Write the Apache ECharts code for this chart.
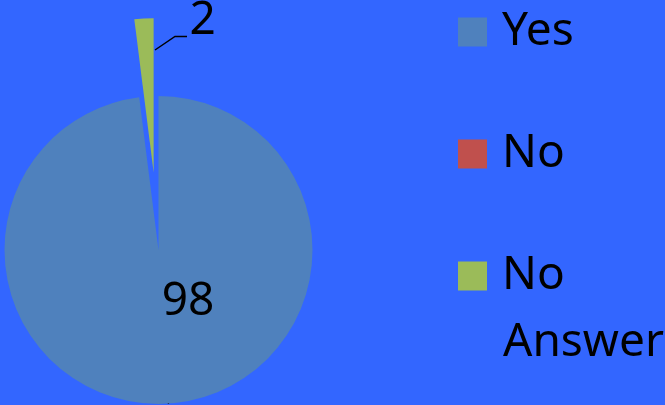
<!DOCTYPE html>
<html>
<head>
<meta charset="utf-8">
<style>
html,body{margin:0;padding:0;background:#3366FF;}
#chart{width:665px;height:405px;}
</style>
<script src="https://cdn.jsdelivr.net/npm/echarts@6/dist/echarts.min.js"></script>
</head>
<body>
<div id="chart"></div>
<script>
var categories = ['Yes', 'No', 'No Answer'];
var values = [98, 0, 2];
var colors = ['#4F81BD', '#C0504D', '#9BBB59'];
var explodedCategory = 'No Answer';

var FONT = '"Noto Sans", "Open Sans", sans-serif';
var CX = 158.5, CY = 250, R = 154, EXPLODE = 78;

// direction of the exploded slice (mid-angle), pie starts at 90deg clockwise
var total = values.reduce(function (a, b) { return a + b; }, 0);
var before = 0;
for (var k = 0; k < categories.indexOf(explodedCategory); k++) before += values[k];
var midFrac = (before + values[categories.indexOf(explodedCategory)] / 2) / total;
var midAng = (90 - 360 * midFrac) * Math.PI / 180;
var ECX = CX + EXPLODE * Math.cos(midAng);
var ECY = CY - EXPLODE * Math.sin(midAng);

var chart = echarts.init(document.getElementById('chart'), null, {renderer: 'canvas'});

function hidden(v) {
  return {name: '', value: v, itemStyle: {color: 'rgba(0,0,0,0)'}, label: {show: false}, labelLine: {show: false}};
}

var mainData = categories.map(function (c, i) {
  if (c === explodedCategory) return hidden(values[i]);
  var d = {name: c, value: values[i], itemStyle: {color: colors[i]}};
  if (values[i] === 0) { d.label = {show: false}; d.labelLine = {show: false}; }
  return d;
});
var explodedData = categories.map(function (c, i) {
  if (c !== explodedCategory) return hidden(values[i]);
  return {name: c, value: values[i], itemStyle: {color: colors[i]}};
});

var legendTops = [9, 131, 253];
var legends = categories.map(function (c, i) {
  return {
    orient: 'vertical',
    left: 458,
    top: legendTops[i],
    padding: 0,
    itemWidth: 29,
    itemHeight: 29,
    icon: 'rect',
    selectedMode: false,
    data: [c],
    formatter: function (n) { return n.split(' ')[0]; },
    textStyle: {fontFamily: FONT, fontSize: 46, color: '#000', padding: [0, 0, 0, 10]}
  };
});

var pieCommon = {
  type: 'pie',
  radius: R,
  startAngle: 90,
  clockwise: true,
  avoidLabelOverlap: false,
  itemStyle: {borderWidth: 0},
  emphasis: {disabled: true},
  label: {show: true, formatter: '{c}', fontFamily: FONT, fontSize: 46, color: '#000', rotate: 0},
  labelLine: {show: true, lineStyle: {color: '#000', width: 1.5}}
};

chart.setOption({
  animation: false,
  backgroundColor: '#3366FF',
  legend: legends,
  graphic: [{
    type: 'text',
    x: 503,
    y: 343,
    style: {text: 'Answer', fontFamily: FONT, fontSize: 46, fill: '#000', verticalAlign: 'middle', align: 'left'}
  }],
  series: [
    Object.assign({}, pieCommon, {
      center: [CX, CY],
      labelLayout: function (p) {
        return {x: CX + 29.5, y: CY + 52, align: 'center', verticalAlign: 'middle'};
      },
      data: mainData
    }),
    Object.assign({}, pieCommon, {
      center: [ECX, ECY],
      labelLayout: function (p) {
        return {
          x: CX + 31, y: 21, align: 'left', verticalAlign: 'middle',
          labelLinePoints: [[CX - 3.5, 50], [CX + 16.5, 36.5], [CX + 28.5, 36.5]]
        };
      },
      data: explodedData
    })
  ]
});
</script>
</body>
</html>
